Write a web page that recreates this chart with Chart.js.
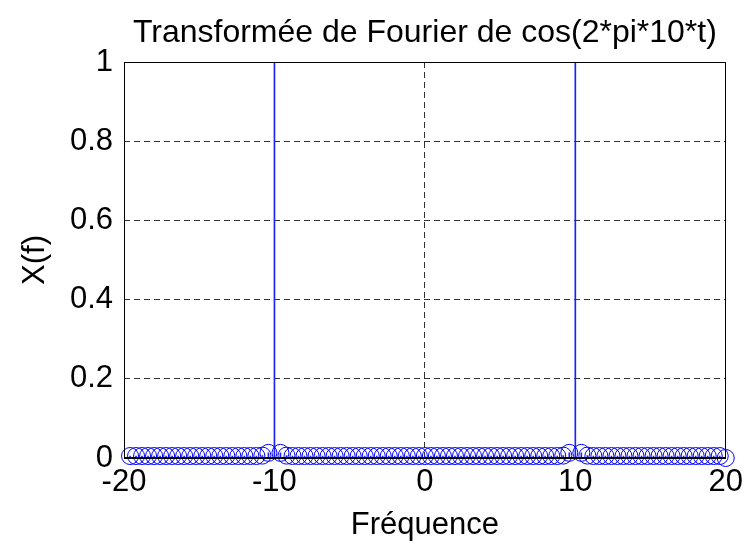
<!DOCTYPE html>
<html>
<head>
<meta charset="utf-8">
<script src="https://cdn.jsdelivr.net/npm/chart.js@4/dist/chart.umd.min.js"></script>
<style>
  html,body{margin:0;padding:0;background:#fff;}
  #wrap{width:749px;height:544px;}
</style>
</head>
<body>
<div id="wrap"><canvas id="fft" width="749" height="544"></canvas></div>
<script>
// frequency bins (Hz)
const freq = [
  -19.6,-19.2,-18.8,-18.4,-18,-17.6,-17.2,-16.8,-16.4,-16,
  -15.6,-15.2,-14.8,-14.4,-14,-13.6,-13.2,-12.8,-12.4,-12,
  -11.6,-11.2,-10.8,-10.4,-10,-9.6,-9.2,-8.8,-8.4,-8,
  -7.6,-7.2,-6.8,-6.4,-6,-5.6,-5.2,-4.8,-4.4,-4,
  -3.6,-3.2,-2.8,-2.4,-2,-1.6,-1.2,-0.8,-0.4,0,
  0.4,0.8,1.2,1.6,2,2.4,2.8,3.2,3.6,4,
  4.4,4.8,5.2,5.6,6,6.4,6.8,7.2,7.6,8,
  8.4,8.8,9.2,9.6,10,10.4,10.8,11.2,11.6,12,
  12.4,12.8,13.2,13.6,14,14.4,14.8,15.2,15.6,16,
  16.4,16.8,17.2,17.6,18,18.4,18.8,19.2,19.6,20
];
// |X(f)| (peaks at +-10 go past the top of the axes)
const amplitude = [
  0.005,0.005,0.005,0.005,0.005,0.005,0.005,0.005,0.005,0.005,
  0.005,0.005,0.005,0.005,0.005,0.005,0.005,0.005,0.005,0.005,
  0.005,0.005,0.006,0.013,50,0.013,0.006,0.005,0.005,0.005,
  0.005,0.005,0.005,0.005,0.005,0.005,0.005,0.005,0.005,0.005,
  0.005,0.005,0.005,0.005,0.005,0.005,0.005,0.005,0.005,0.005,
  0.005,0.005,0.005,0.005,0.005,0.005,0.005,0.005,0.005,0.005,
  0.005,0.005,0.005,0.005,0.005,0.005,0.005,0.005,0.005,0.005,
  0.005,0.005,0.006,0.013,50,0.013,0.006,0.005,0.005,0.005,
  0.005,0.005,0.005,0.005,0.005,0.005,0.005,0.005,0.005,0.005,
  0.005,0.005,0.005,0.005,0.005,0.005,0.005,0.005,0.005,0
];
const xTicks = [-20,-10,0,10,20];
const yTicks = [0,0.2,0.4,0.6,0.8,1];
const titleText = 'Transformée de Fourier de cos(2*pi*10*t)';

const FONT = '"Liberation Sans", Arial, Helvetica, sans-serif';
const pts = freq.map((f,i)=>({x:f,y:amplitude[i]}));

const gridColor = c => (c.tick && (c.tick.value===c.scale.min || c.tick.value===c.scale.max)) ? 'rgba(0,0,0,0)' : 'rgba(0,0,0,0.8)';

const matlabBox = {
  id:'matlabBox',
  afterDraw(chart){
    const {ctx, chartArea:a} = chart;
    ctx.save();
    ctx.setLineDash([]);
    ctx.strokeStyle='#000';
    ctx.lineWidth=1;
    ctx.strokeRect(Math.round(a.left)+0.5, Math.round(a.top)+0.5, Math.round(a.right-a.left)-1, Math.round(a.bottom-a.top));
    ctx.lineWidth=2;
    ctx.beginPath(); ctx.moveTo(a.left, Math.round(a.bottom)); ctx.lineTo(a.right, Math.round(a.bottom)); ctx.stroke();
    ctx.fillStyle='#000';
    ctx.font='32px '+FONT;
    ctx.textAlign='center';
    ctx.textBaseline='alphabetic';
    ctx.fillText(titleText, (a.left+a.right)/2, 42);
    ctx.restore();
  }
};

new Chart(document.getElementById('fft'),{
  type:'scatter',
  data:{datasets:[
    {type:'bar',data:pts,backgroundColor:'#2020ff',barThickness:1,borderWidth:0,order:2},
    {type:'scatter',data:pts,showLine:false,clip:false,pointStyle:'circle',pointRadius:8.5,pointBorderWidth:1,
     pointBorderColor:'#0000ff',pointBackgroundColor:'rgba(0,0,0,0)',order:1}
  ]},
  options:{
    responsive:false,animation:false,events:[],
    layout:{padding:{top:62,right:23,left:0,bottom:0}},
    plugins:{legend:{display:false},tooltip:{enabled:false},title:{display:false}},
    scales:{
      x:{type:'linear',min:-20,max:20,offset:false,
        afterBuildTicks:s=>{s.ticks=xTicks.map(v=>({value:v}));},
        afterFit:s=>{s.height=86;},
        ticks:{color:'#000',font:{family:FONT,size:31},padding:6,maxRotation:0,autoSkip:false,callback:v=>String(v)},
        grid:{color:gridColor,drawTicks:false,offset:false,lineWidth:1},
        border:{display:false,dash:[6,4]},
        title:{display:true,text:'Fréquence',color:'#000',font:{family:FONT,size:31},padding:{top:7,bottom:0}}
      },
      y:{min:0,max:1,
        afterBuildTicks:s=>{s.ticks=yTicks.map(v=>({value:v}));},
        afterFit:s=>{s.width=124;},
        ticks:{color:'#000',font:{family:FONT,size:31},padding:11,autoSkip:false,callback:v=>String(v)},
        grid:{color:gridColor,drawTicks:false,lineWidth:1},
        border:{display:false,dash:[6,4]},
        title:{display:true,text:'X(f)',color:'#000',font:{family:FONT,size:31},padding:{top:17,bottom:0}}
      }
    }
  },
  plugins:[matlabBox]
});
</script>
</body>
</html>
